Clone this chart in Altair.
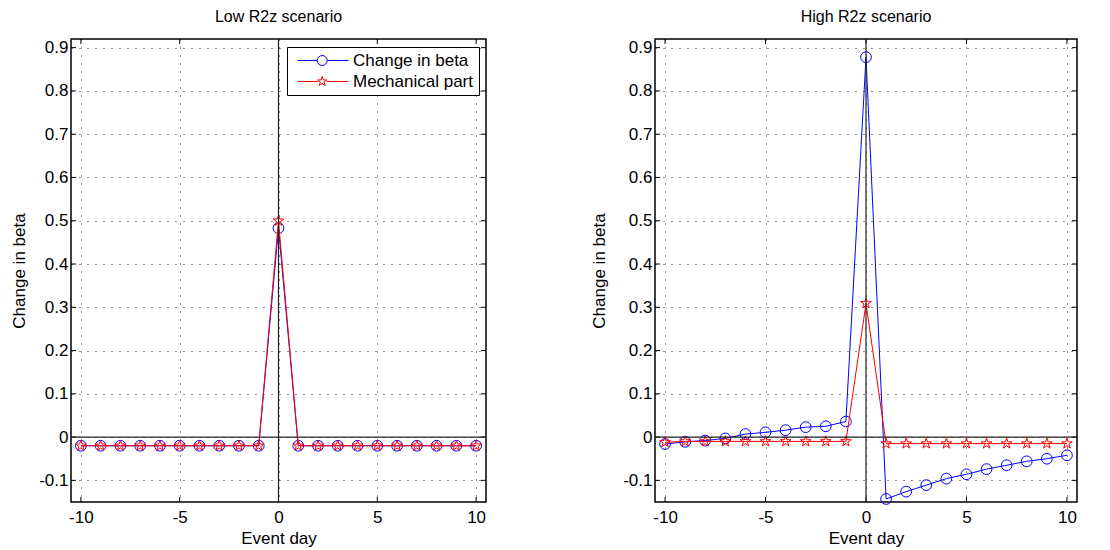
import math
import altair as alt
import pandas as pd

FONT = "Liberation Sans"
S1 = "Change in beta"
S2 = "Mechanical part"

days = [-10, -9, -8, -7, -6, -5, -4, -3, -2, -1, 0, 1, 2, 3, 4, 5, 6, 7, 8, 9, 10]

low_change = [-0.02, -0.02, -0.02, -0.02, -0.02, -0.02, -0.02, -0.02, -0.02, -0.02,
              0.483,
              -0.02, -0.02, -0.02, -0.02, -0.02, -0.02, -0.02, -0.02, -0.02, -0.02]
low_mech = [-0.02, -0.02, -0.02, -0.02, -0.02, -0.02, -0.02, -0.02, -0.02, -0.02,
            0.50,
            -0.02, -0.02, -0.02, -0.02, -0.02, -0.02, -0.02, -0.02, -0.02, -0.02]

high_change = [-0.016, -0.011, -0.008, -0.003, 0.007, 0.011, 0.016, 0.023, 0.025, 0.036,
               0.878,
               -0.143, -0.126, -0.111, -0.096, -0.086, -0.074, -0.065, -0.056, -0.050, -0.042]
high_mech = [-0.012, -0.010, -0.010, -0.010, -0.010, -0.010, -0.010, -0.010, -0.010, -0.010,
             0.309,
             -0.015, -0.015, -0.015, -0.015, -0.015, -0.015, -0.015, -0.015, -0.015, -0.015]

x_ticks = [-10, -5, 0, 5, 10]
y_ticks = [-0.1, 0, 0.1, 0.2, 0.3, 0.4, 0.5, 0.6, 0.7, 0.8, 0.9]

X_DOMAIN = [-10.5, 10.5]
Y_DOMAIN = [-0.15, 0.92]
H = 463
BLUE = "#0000ff"
RED = "#ff0000"


# ---- marker shapes (unit square paths) ----
def star_path(cx=0.0, r=1.0):
    pts = []
    for i in range(10):
        ang = math.radians(-90 + 36 * i)
        rr = r if i % 2 == 0 else r * 0.382
        pts.append((cx + rr * math.cos(ang), rr * math.sin(ang)))
    return "M" + " L".join(f"{x:.3f},{y:.3f}" for x, y in pts) + " Z"


STAR = star_path()

# legend symbols: a line with the marker in the middle
K = 6.0            # px per unit for legend symbolSize 144
X0 = 3.0           # symbol centre offset from line start
L = -X0 / K
R = (51 - X0) / K
C = (24.7 - X0) / K
RAD = 5.0 / K
LEG_CIRCLE = (f"M{L:.3f},0 L{C-RAD:.3f},0 M{C+RAD:.3f},0 L{R:.3f},0 "
              f"M{C+RAD:.3f},0 A{RAD:.3f},{RAD:.3f} 0 1,1 {C-RAD:.3f},0 "
              f"A{RAD:.3f},{RAD:.3f} 0 1,1 {C+RAD:.3f},0 Z")
LEG_STAR = (f"M{L:.3f},0 L{C-RAD*0.95:.3f},0 M{C+RAD*0.95:.3f},0 L{R:.3f},0 "
            + star_path(C, RAD))

label_expr_y = "datum.value == 0 ? '0' : toString(round(datum.value*10)/10)"
label_expr_x = "toString(datum.value)"


def panel(title, change, mech, width, with_legend, ytitle_pad):
    df = pd.DataFrame({
        "day": days + days,
        "value": change + mech,
        "series": [S1] * len(days) + [S2] * len(days),
    })
    xs = alt.Scale(domain=X_DOMAIN, nice=False, zero=False)
    ys = alt.Scale(domain=Y_DOMAIN, nice=False, zero=False)
    xaxis = alt.Axis(values=x_ticks, title="Event day", labelExpr=label_expr_x,
                     labelPadding=7, titlePadding=5)
    yaxis = alt.Axis(values=y_ticks, title="Change in beta", labelExpr=label_expr_y,
                     labelPadding=3, titlePadding=ytitle_pad)

    def X(f="day"):
        return alt.X(f"{f}:Q", scale=xs, axis=xaxis)

    def Y(f="value"):
        return alt.Y(f"{f}:Q", scale=ys, axis=yaxis)

    base = alt.Chart(df)
    s1 = base.transform_filter(alt.datum.series == S1)
    s2 = base.transform_filter(alt.datum.series == S2)

    line1 = s1.mark_line(strokeWidth=1, color=BLUE).encode(x=X(), y=Y())
    line2 = s2.mark_line(strokeWidth=1, color=RED).encode(x=X(), y=Y())
    circles = s1.mark_point(
        shape="circle", size=115, filled=False, strokeWidth=1, color=BLUE, opacity=1
    ).encode(x=X(), y=Y())
    stars = s2.mark_point(
        shape=STAR, size=125, filled=False, strokeWidth=1, color=RED, opacity=1
    ).encode(x=X(), y=Y())

    zx = pd.DataFrame({"day": [0]})
    zy = pd.DataFrame({"value": [0]})
    zero_v = alt.Chart(zx).mark_rule(color="#222", strokeWidth=1.2).encode(x=X())
    zero_h = alt.Chart(zy).mark_rule(color="#222", strokeWidth=1.2).encode(y=Y())

    xt = pd.DataFrame({"day": x_ticks})
    yt = pd.DataFrame({"value": y_ticks})
    tick_b = alt.Chart(xt).mark_rule(color="black").encode(
        x=X(), y=alt.value(H - 5), y2=alt.value(H))
    tick_t = alt.Chart(xt).mark_rule(color="black").encode(
        x=X(), y=alt.value(0), y2=alt.value(5))
    tick_l = alt.Chart(yt).mark_rule(color="black").encode(
        y=Y(), x=alt.value(0), x2=alt.value(5))
    tick_r = alt.Chart(yt).mark_rule(color="black").encode(
        y=Y(), x=alt.value(width - 5), x2=alt.value(width))

    layers = [tick_b, tick_t, tick_l, tick_r, line1, circles, line2, stars, zero_v, zero_h]

    if with_legend:
        leg = alt.Legend(
            title=None, orient="none", legendX=216, legendY=8,
            fillColor="white", strokeColor="black", padding=5,
            symbolSize=144, symbolStrokeWidth=1, labelFont=FONT, labelFontSize=17,
            labelColor="black", labelOffset=44, rowPadding=3, labelLimit=300,
        )
        cscale = alt.Scale(domain=[S1, S2], range=[BLUE, RED])
        legend_layer = base.mark_point(
            filled=False, strokeWidth=1, opacity=1, size=0
        ).encode(
            x=X(), y=Y(),
            color=alt.Color("series:N", scale=cscale, legend=leg),
            shape=alt.Shape("series:N",
                            scale=alt.Scale(domain=[S1, S2], range=[LEG_CIRCLE, LEG_STAR]),
                            legend=leg),
        )
        layers.append(legend_layer)

    return alt.layer(*layers).properties(
        width=width, height=H,
        title=alt.TitleParams(title, font=FONT, fontSize=16, fontWeight="normal",
                              color="black", offset=13),
    )


left = panel("Low R2z scenario", low_change, low_mech, 415, True, 10)
right = panel("High R2z scenario", high_change, high_mech, 422, False, 14)

chart = alt.hconcat(left, right, spacing=101).properties(
    padding={"left": 9, "top": 8, "right": 5, "bottom": 1},
    background="white",
).configure_view(
    stroke="black", strokeWidth=1.5
).configure_axis(
    labelFont=FONT, labelFontSize=17, labelColor="black",
    titleFont=FONT, titleFontSize=17, titleFontWeight="normal", titleColor="black",
    ticks=False, domain=False, grid=True, gridColor="black", gridDash=[1, 7],
    gridWidth=1, gridOpacity=0.85,
)

chart.save("out.html", embed_options={"renderer": "svg", "actions": False})
